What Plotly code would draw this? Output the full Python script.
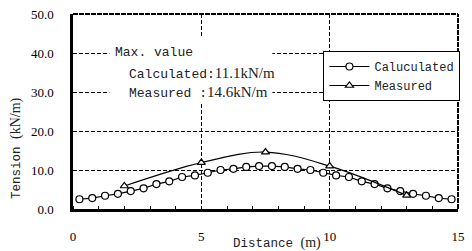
import plotly.graph_objects as go

# Calculated tension along distance
calc_x = [0.25, 0.75, 1.25, 1.75, 2.25, 2.75, 3.25, 3.75, 4.25, 4.75,
          5.25, 5.75, 6.25, 6.75, 7.25, 7.75, 8.25, 8.75, 9.25, 9.75,
          10.25, 10.75, 11.25, 11.75, 12.25, 12.75, 13.25, 13.75, 14.25, 14.75]
calc_y = [2.5, 2.8, 3.4, 3.9, 4.6, 5.3, 6.4, 7.1, 8.2, 8.6,
          9.3, 10.0, 10.3, 10.8, 11.0, 11.0, 10.8, 10.3, 10.0, 9.3,
          8.6, 8.2, 7.1, 6.4, 5.3, 4.6, 3.9, 3.4, 2.8, 2.5]

# Measured tension
meas_x = [2.0, 5.0, 7.5, 10.0, 13.0]
meas_y = [5.9, 11.9, 14.6, 11.0, 3.5]

x_ticks = [0, 5, 10, 15]
y_ticks = [0, 10, 20, 30, 40, 50]

MONO = "Liberation Mono, Courier New, DejaVu Sans Mono, monospace"
SERIF = "Liberation Serif, Times New Roman, DejaVu Serif, serif"

fig = go.Figure()
fig.add_trace(go.Scatter(
    x=calc_x, y=calc_y, mode="lines+markers", name="Caluculated",
    line=dict(color="black", width=1.2),
    marker=dict(symbol="circle", size=7, color="white",
                line=dict(color="black", width=1.2)),
))
fig.add_trace(go.Scatter(
    x=meas_x, y=meas_y, mode="lines+markers", name="Measured",
    line=dict(color="black", width=1.2, shape="spline", smoothing=1.0),
    marker=dict(symbol="triangle-up", size=7, color="white",
                line=dict(color="black", width=1.2)),
))

fig.update_layout(
    width=472, height=251,
    margin=dict(l=73, r=7, t=14, b=42),
    paper_bgcolor="white", plot_bgcolor="white",
    font=dict(family=SERIF, size=13, color="black"),
    showlegend=True,
    legend=dict(
        x=(328 - 73) / 392, y=(209 - 51) / 195, xanchor="left", yanchor="top",
        bgcolor="white", bordercolor="black", borderwidth=1,
        font=dict(family=MONO, size=12, color="#222"),
        tracegroupgap=0, itemwidth=40,
    ),
)

fig.update_xaxes(
    range=[0, 15], tickvals=x_ticks, ticktext=[str(v) for v in x_ticks],
    showgrid=True, gridcolor="black", gridwidth=1, griddash="4px,2px",
    showline=True, linecolor="black", linewidth=2.5,
    ticks="", ticklabelstandoff=14,
    tickfont=dict(family=SERIF, size=13),
    minor=dict(dtick=1, ticks="inside", ticklen=3, tickcolor="black",
               tickwidth=1, showgrid=False),
    zeroline=False,
)
fig.update_yaxes(
    range=[0, 50], tickvals=y_ticks, ticktext=[f"{v:.1f}" for v in y_ticks],
    showgrid=True, gridcolor="black", gridwidth=1, griddash="4px,2px",
    showline=True, linecolor="black", linewidth=2.5,
    ticks="inside", ticklen=3, tickcolor="black", tickwidth=1,
    ticklabelstandoff=14,
    tickfont=dict(family=SERIF, size=13),
    zeroline=False,
)

# top and right borders (dashed, thicker)
fig.add_shape(type="line", xref="paper", yref="paper", x0=0, x1=1, y0=1, y1=1,
              line=dict(color="black", width=2, dash="5px,1px"), layer="above")
fig.add_shape(type="line", xref="paper", yref="paper", x0=1, x1=1, y0=0, y1=1,
              line=dict(color="black", width=2, dash="5px,1px"), layer="above")

# white box behind the max-value note
fig.add_shape(type="rect", xref="paper", yref="paper",
              x0=(110 - 73) / 392, x1=(276 - 73) / 392,
              y0=(209 - 104) / 195, y1=(209 - 36) / 195,
              fillcolor="white", line=dict(width=0), layer="above")

SER_SPAN = "font-family:Liberation Serif,Times New Roman,serif;font-size:15px"
SER_SPAN_AX = "font-family:Liberation Serif,Times New Roman,serif;font-size:14px"

fig.add_annotation(xref="paper", yref="paper", x=(114 - 73) / 392, y=(209 - 53) / 195,
                   text="Max. value", showarrow=False, xanchor="left", yanchor="middle",
                   font=dict(family=MONO, size=13, color="#222"))
fig.add_annotation(xref="paper", yref="paper", x=(128 - 73) / 392, y=(209 - 73) / 195,
                   text=f"Calculated:<span style='{SER_SPAN}'>11.1kN/m</span>",
                   showarrow=False, xanchor="left", yanchor="middle",
                   font=dict(family=MONO, size=13, color="#222"))
fig.add_annotation(xref="paper", yref="paper", x=(128 - 73) / 392, y=(209 - 92) / 195,
                   text=f"Measured :<span style='{SER_SPAN}'>14.6kN/m</span>",
                   showarrow=False, xanchor="left", yanchor="middle",
                   font=dict(family=MONO, size=13, color="#222"))

# axis titles
fig.add_annotation(xref="paper", yref="paper", x=(281 - 73) / 392, y=(209 - 243) / 195,
                   text=f"Distance <span style='{SER_SPAN_AX}'>(m)</span>",
                   showarrow=False, xanchor="center", yanchor="middle",
                   font=dict(family=MONO, size=12.5, color="#222"))
fig.add_annotation(xref="paper", yref="paper", x=(15 - 73) / 392, y=(209 - 148) / 195,
                   text=f"Tension <span style='{SER_SPAN_AX}'>(kN/m)</span>",
                   showarrow=False, xanchor="center", yanchor="middle", textangle=-90,
                   font=dict(family=MONO, size=12.5, color="#222"))

fig.write_html("out.html",
               config={"displayModeBar": False},
               post_script="document.body.style.margin='0px';document.body.style.overflow='hidden';")
